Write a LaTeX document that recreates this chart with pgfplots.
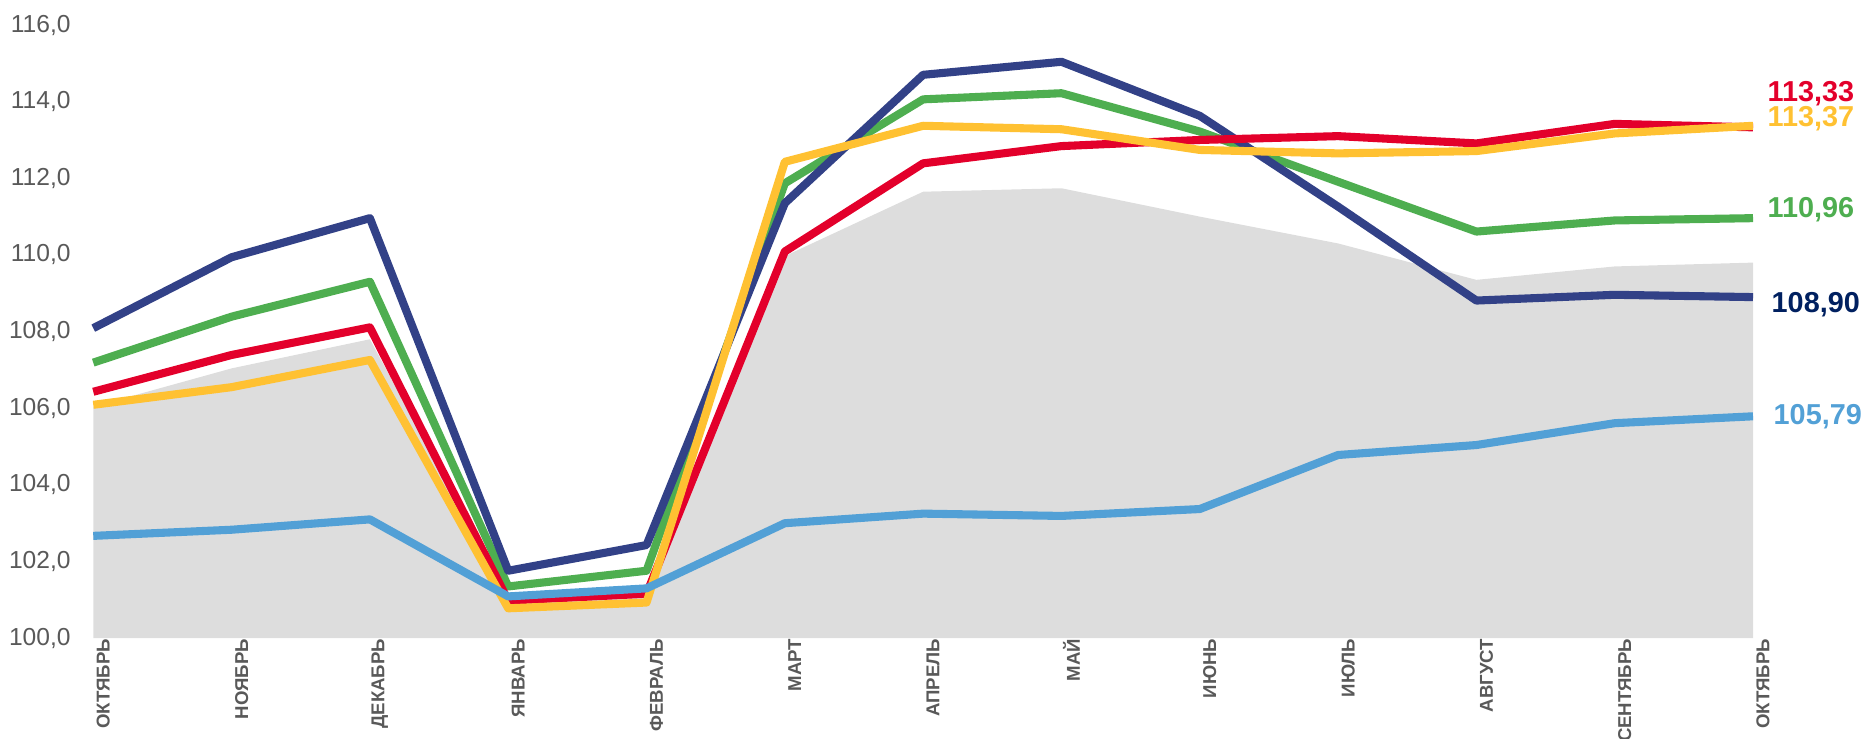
\documentclass[border=0pt]{standalone}
\usepackage{pgfplots}
\pgfplotsset{compat=1.18}
\usepackage{pgfplotstable}
\usepackage{fontspec}
\setmainfont{Liberation Sans}

\definecolor{cnavy}{RGB}{50,65,135}
\definecolor{cgreen}{RGB}{78,174,80}
\definecolor{cred}{RGB}{227,0,43}
\definecolor{cyellow}{RGB}{255,193,50}
\definecolor{cblue}{RGB}{82,160,214}
\definecolor{cfill}{RGB}{221,221,221}
\definecolor{ctext}{RGB}{89,89,89}
\definecolor{cnavytxt}{RGB}{0,32,96}

% x = month index
\pgfplotstableread{
x  gray    navy    green   red     yellow  blue
0  106.04  108.09  107.19  106.43  106.09  102.67
1  107.04  109.94  108.39  107.39  106.55  102.83
2  107.80  110.96  109.30  108.11  107.26  103.10
3  101.10  101.76  101.35  100.98  100.78  101.09
4  101.30  102.43  101.76  101.16  100.93  101.30
5  109.97  111.35  111.87  110.09  112.43  103.00
6  111.65  114.70  114.06  112.39  113.37  103.25
7  111.74  115.04  114.22  112.84  113.28  103.19
8  111.00  113.63  113.22  113.00  112.74  103.37
9  110.30  111.26  111.91  113.10  112.65  104.78
10 109.35  108.81  110.61  112.91  112.71  105.04
11 109.70  108.96  110.90  113.42  113.17  105.61
12 109.80  108.90  110.96  113.33  113.37  105.79
}\data

\begin{document}
\begin{tikzpicture}
\begin{axis}[
  scale only axis,
  width=16.6cm, height=6.133cm,
  xmin=0, xmax=12, ymin=100, ymax=116,
  clip=false,
  axis line style={draw=none},
  major tick length=0pt,
  xtick={0,...,12},
  xticklabels={ОКТЯБРЬ,НОЯБРЬ,ДЕКАБРЬ,ЯНВАРЬ,ФЕВРАЛЬ,МАРТ,АПРЕЛЬ,МАЙ,ИЮНЬ,ИЮЛЬ,АВГУСТ,СЕНТЯБРЬ,ОКТЯБРЬ},
  xticklabel style={rotate=90, anchor=east, font=\fontsize{5.3pt}{6pt}\selectfont\bfseries, text=ctext, inner sep=0pt, yshift=-0.1cm},
  ytick={100,102,...,116},
  yticklabel style={font=\fontsize{7pt}{8pt}\selectfont, text=ctext, inner sep=0pt, xshift=-0.22cm},
  /pgf/number format/.cd, fixed, fixed zerofill, precision=1, use comma, assume math mode=true,
]
\addplot[draw=none, fill=cfill] table[x=x, y=gray] {\data} \closedcycle;
\addplot[cgreen, line width=2.3pt, line join=round] table[x=x, y=green] {\data};
\addplot[cnavy, line width=2.3pt, line join=round] table[x=x, y=navy] {\data};
\addplot[cred, line width=2.3pt, line join=round] table[x=x, y=red] {\data};
\addplot[cyellow, line width=2.3pt, line join=round] table[x=x, y=yellow] {\data};
\addplot[cblue, line width=2.3pt, line join=round] table[x=x, y=blue] {\data};

\begin{scope}[every node/.style={anchor=west, inner sep=0pt, font=\fontsize{8.2pt}{9pt}\selectfont\bfseries}]
\node[text=cred]      at ([xshift=0.14cm]axis cs:12,114.20) {113,33};
\node[text=cyellow]   at ([xshift=0.14cm]axis cs:12,113.55) {113,37};
\node[text=cgreen]    at ([xshift=0.14cm]axis cs:12,111.17) {110,96};
\node[text=cnavytxt]  at ([xshift=0.18cm]axis cs:12,108.70) {108,90};
\node[text=cblue]     at ([xshift=0.20cm]axis cs:12,105.78) {105,79};
\end{scope}
\end{axis}
\pgfresetboundingbox
\path ([shift={(-0.933cm,-1.007cm)}]current axis.south west) rectangle ([shift={(1.09cm,0.25cm)}]current axis.north east);
\end{tikzpicture}
\end{document}
